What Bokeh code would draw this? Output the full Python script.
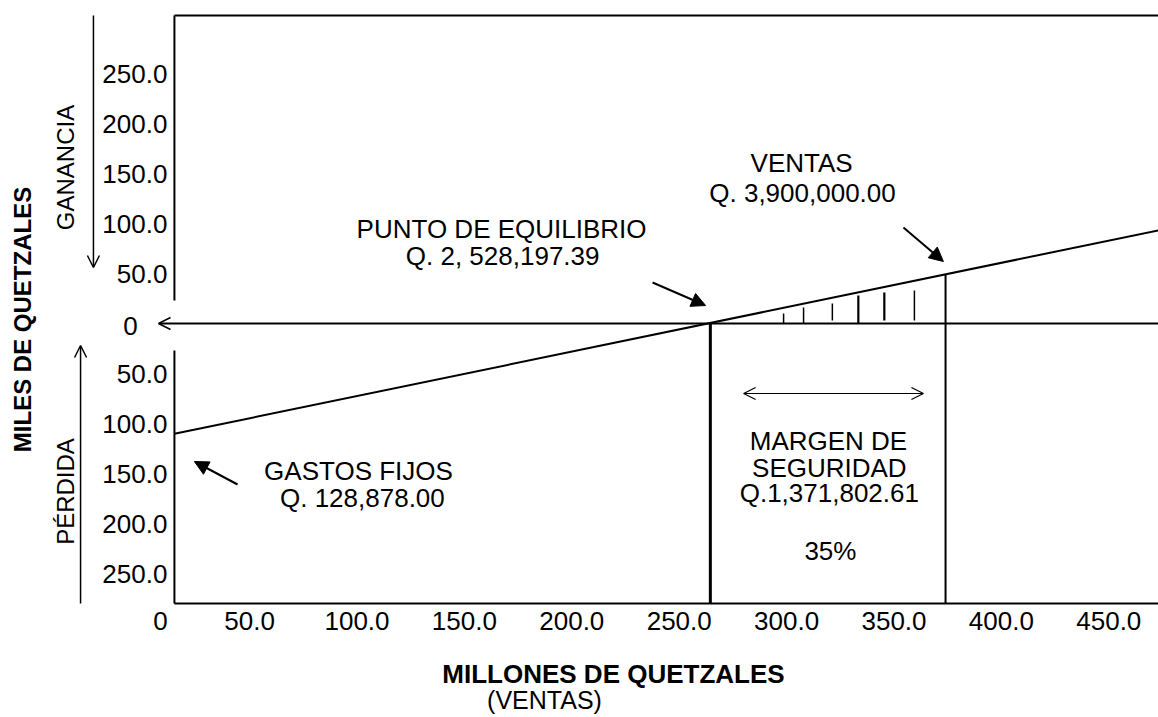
import math
from bokeh.plotting import figure
from bokeh.models import Range1d, Arrow, NormalHead, OpenHead
from bokeh.core.properties import value
from bokeh.embed import file_html
from bokeh.resources import INLINE

# ---- data (x: ventas, y: miles de quetzales; + ganancia / - pérdida) ----
line_x = [15.0, 475.0]
line_y = [-110.3, 94.0]
equilibrio_x = 264.5
ventas_x = 374.0
ventas_y = 49.0
hatch_x = [298.6, 307.9, 321.3, 333.4, 345.5, 359.5]
hatch_y0 = [0, 0, 3, 0, 3, 3]
hatch_y1 = [10, 16, 20, 28, 31, 33]
hatch_w = [1.5, 1.5, 1.5, 2.2, 2.2, 1.5]
x_ticks = [50, 100, 150, 200, 250, 300, 350, 400, 450]
x_tick_labels = ["50.0", "100.0", "150.0", "200.0", "250.0", "300.0", "350.0", "400.0", "450.0"]
y_ticks = [250, 200, 150, 100, 50, -50, -100, -150, -200, -250]
y_tick_labels = ["250.0", "200.0", "150.0", "100.0", "50.0", "50.0", "100.0", "150.0", "200.0", "250.0"]

# plot-area limits (data units)
PX0, PX1 = 15.0, 473.1
PY0, PY1 = -280.0, 308.0

FONT = "Liberation Sans"
W, H = 1158, 717

p = figure(width=W, height=H, x_range=Range1d(-65.97, 473.14), y_range=Range1d(-394.0, 323.0),
           output_backend="svg", toolbar_location=None,
           x_axis_location=None, y_axis_location=None,
           min_border=0, min_border_left=0, min_border_right=0, min_border_top=0, min_border_bottom=0)
p.outline_line_color = None
p.grid.grid_line_color = None
p.background_fill_color = "white"
p.border_fill_color = "white"

# frame lines: top, bottom, left (with gap at zero)
p.segment(x0=[PX0, PX0, PX0, PX0], y0=[PY1, PY0, PY1, -27],
          x1=[PX1, PX1, PX0, PX0], y1=[PY1, PY0, 23, PY0],
          line_color="black", line_width=2)

# tick labels
p.text(x=x_ticks, y=[PY0 - 17] * len(x_ticks), text=x_tick_labels,
       text_font=value(FONT), text_font_size="26px", text_align="center",
       text_baseline="middle", text_color="black")
p.text(x=[PX0] * len(y_ticks), y=y_ticks, text=y_tick_labels, x_offset=-7,
       text_font=value(FONT), text_font_size="26px", text_align="right",
       text_baseline="middle", text_color="black")
p.text(x=[-5.4, 8.5], y=[-2, PY0 - 17], text=["0", "0"],
       text_font=value(FONT), text_font_size="26px", text_align="center",
       text_baseline="middle", text_color="black")

# zero line with open arrow head at left
p.add_layout(Arrow(start=OpenHead(size=12, line_width=1.5), end=None,
                   x_start=7.6, y_start=0, x_end=PX1, y_end=0, line_width=2))

# profit line
p.line(line_x, line_y, line_color="black", line_width=2)
# verticals
p.segment(x0=[equilibrio_x], y0=[0], x1=[equilibrio_x], y1=[PY0], line_color="black", line_width=3)
p.segment(x0=[ventas_x], y0=[ventas_y], x1=[ventas_x], y1=[PY0], line_color="black", line_width=2)
# hatch
p.segment(x0=hatch_x, y0=hatch_y0, x1=hatch_x, y1=hatch_y1, line_color="black", line_width=hatch_w)

# pointer arrows
def pointer(xs, ys, xe, ye):
    p.add_layout(Arrow(end=NormalHead(size=14, fill_color="black", line_color="black"),
                       x_start=xs, y_start=ys, x_end=xe, y_end=ye, line_width=2))

pointer(237.6, 41, 262.3, 18)
pointer(354.4, 96, 373.0, 62)
pointer(44.4, -161, 24.3, -138)

# double arrow margen
p.add_layout(Arrow(start=OpenHead(size=12, line_width=1.2), end=OpenHead(size=12, line_width=1.2),
                   x_start=280, y_start=-70, x_end=363.7, y_end=-70, line_width=1.2))
# ganancia / pérdida arrows
p.add_layout(Arrow(end=OpenHead(size=12, line_width=1.5), x_start=-22.7, y_start=PY1,
                   x_end=-22.7, y_end=56, line_width=1.5))
p.add_layout(Arrow(end=OpenHead(size=12, line_width=1.5), x_start=-28.7, y_start=PY0,
                   x_end=-28.7, y_end=-22, line_width=1.5))

ann_x = [307.0, 307.4, 167.3, 167.8, 100.7, 102.5, 319.5, 319.9, 319.9, 320.4]
ann_y = [161, 131, 95, 68, -147, -174, -117, -144, -169, -227]
ann_t = ["VENTAS", "Q. 3,900,000.00", "PUNTO DE EQUILIBRIO", "Q. 2, 528,197.39",
         "GASTOS FIJOS", "Q. 128,878.00", "MARGEN DE", "SEGURIDAD", "Q.1,371,802.61",
         "35%"]
p.text(x=ann_x, y=ann_y, text=ann_t, text_font=value(FONT), text_font_size="26px",
       text_align="center", text_baseline="middle", text_color="black")
p.text(x=[187.3], y=[-376], text=["(VENTAS)"], text_font=value(FONT), text_font_size="25px",
       text_align="center", text_baseline="middle", text_color="black")

p.text(x=[219.4], y=[-350], text=["MILLONES DE QUETZALES"], text_font=value(FONT),
       text_font_size="26px", text_font_style="bold", text_align="center",
       text_baseline="middle", text_color="black")
p.text(x=[-55.7], y=[4], text=["MILES DE QUETZALES"], text_font=value(FONT),
       text_font_size="24px", text_font_style="bold", text_align="center",
       text_baseline="middle", angle=math.pi / 2, text_color="black")
p.text(x=[-35.7, -35.7], y=[156, -168], text=["GANANCIA", "PÉRDIDA"], text_font=value(FONT),
       text_font_size="24px", text_align="center", text_baseline="middle",
       angle=math.pi / 2, text_color="black")

open("out.html", "w").write(file_html(p, INLINE))
